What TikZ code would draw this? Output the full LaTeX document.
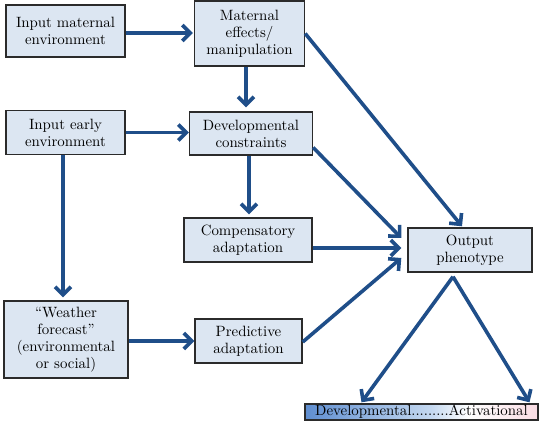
\documentclass[tikz,border=0pt]{standalone}
\usepackage{fontspec}
\setmainfont{lmroman10-regular}[Extension=.otf]
\usetikzlibrary{arrows.meta}
\definecolor{boxfill}{HTML}{DCE6F2}
\definecolor{boxdraw}{HTML}{2B2B2B}
\definecolor{arrowblue}{HTML}{1F4E89}
\definecolor{barblue}{HTML}{5F8ED0}
\definecolor{barlight}{HTML}{C4D8F0}
\definecolor{barpink}{HTML}{FADDE4}
\pgfdeclarehorizontalshading{barshade}{100bp}{color(0bp)=(barblue); color(25bp)=(barblue); color(52bp)=(barlight); color(60bp)=(white); color(75bp)=(barpink); color(100bp)=(barpink)}
\begin{document}
\begin{tikzpicture}[x=1pt,y=-1pt,
  txt/.style={font=\fontsize{14.9}{17}\selectfont},
  box/.style={draw=boxdraw,line width=1.4pt,fill=boxfill,align=center,inner sep=0pt,txt},
  conn/.style={draw=arrowblue,line width=3.6pt,-{Straight Barb[length=8pt,width=16pt]}}]
\useasboundingbox (0,0) rectangle (547,422);
\node[box,minimum width=119pt,minimum height=52pt] (inmat) at (65.5,31) {Input maternal\\environment};
\node[box,minimum width=110pt,minimum height=65pt] (mat) at (249.5,33.5) {Maternal\\effects/\\manipulation};
\node[box,minimum width=119pt,minimum height=44pt] (inearly) at (65.5,132.5) {Input early\\environment};
\node[box,minimum width=123pt,minimum height=43pt] (dev) at (251,133.5) {Developmental\\constraints};
\node[box,minimum width=128pt,minimum height=44pt] (comp) at (248,240) {Compensatory\\adaptation};
\node[box,minimum width=124pt,minimum height=44pt] (out) at (470,250) {Output\\phenotype};
\node[box,minimum width=107pt,minimum height=44pt] (pred) at (248.5,341) {Predictive\\adaptation};
\node[box,minimum width=124pt,minimum height=77pt] (wea) at (66,339.5) {“Weather\\forecast”\\(environmental\\or social)};
\node[draw=boxdraw,line width=1.4pt,shading=barshade,
  minimum width=233pt,minimum height=16pt,inner sep=0pt,txt] (bar) at (421.5,412) {Developmental.........Activational};
% connectors
\draw[conn,shorten >=1pt] ([yshift=-2pt]inmat.east) -- ([yshift=-2pt]inmat.east -| mat.west);
\draw[conn,shorten >=4pt] (mat.south -| 246,0) -- (dev.north -| 246,0);
\draw[conn] (inearly.east) -- (inearly.east -| dev.west);
\draw[conn,shorten >=3pt] (dev.south -| 249,0) -- (comp.north -| 249,0);
\draw[conn,shorten >=3pt] (inearly.south -| 63,0) -- (wea.north -| 63,0);
\draw[conn] ([yshift=-1.5pt]wea.east) -- ([yshift=-1.5pt]wea.east -| pred.west);
\draw[conn] (mat.east) -- ([xshift=-8pt,yshift=1pt]out.north);
\draw[conn] ([yshift=-14pt]dev.east) -- ([xshift=-6pt,yshift=12pt]out.west);
\draw[conn] ([yshift=-8pt]comp.east) -- ([xshift=-6pt,yshift=2pt]out.west);
\draw[conn] ([yshift=-1pt]pred.east) -- ([xshift=-6pt,yshift=-8pt]out.west);
\coordinate (apex) at ([xshift=-17pt,yshift=-4pt]out.south);
\draw[conn] (apex) -- ([xshift=-60pt,yshift=1pt]bar.north);
\draw[conn] (apex) -- ([xshift=108pt,yshift=1pt]bar.north);
\end{tikzpicture}
\end{document}
